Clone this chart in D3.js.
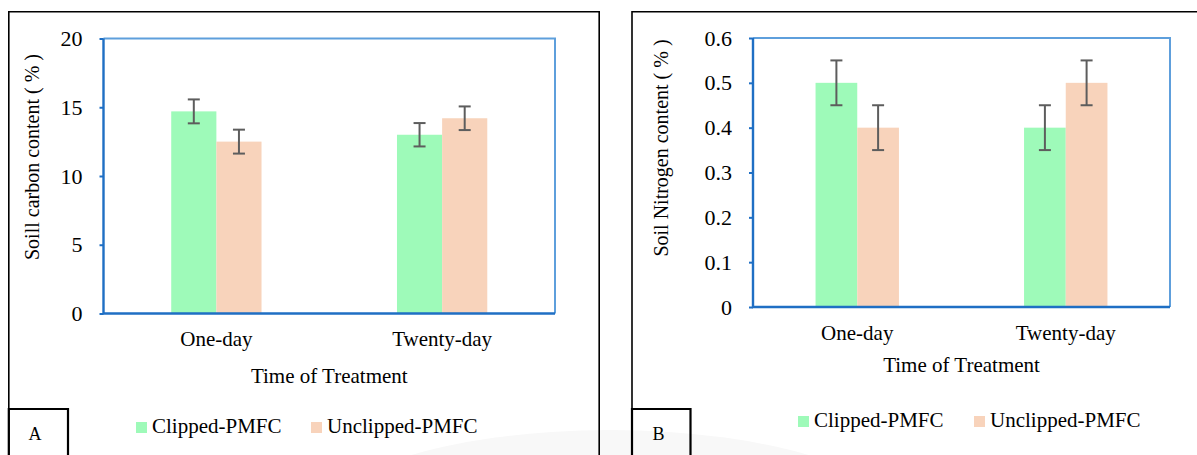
<!DOCTYPE html>
<html>
<head>
<meta charset="utf-8">
<script src="https://cdn.jsdelivr.net/npm/d3@7/dist/d3.min.js"></script>
<style>
  html, body { margin: 0; padding: 0; background: #fff; }
  svg { display: block; }
  text { font-family: "Liberation Serif", "Times New Roman", serif; fill: #000; }
</style>
</head>
<body>
<svg id="chart" width="1197" height="455"></svg>
<script>
// ---- Data ----
const categories = ["One-day", "Twenty-day"];
const seriesNames = ["Clipped-PMFC", "Unclipped-PMFC"];

const carbonClipped = [14.7, 13.0];
const carbonUnclipped = [12.5, 14.2];
const carbonClippedErr = [0.87, 0.85];
const carbonUnclippedErr = [0.87, 0.86];
const carbonTicks = [0, 5, 10, 15, 20];

const nitrogenClipped = [0.5, 0.4];
const nitrogenUnclipped = [0.4, 0.5];
const nitrogenClippedErr = [0.05, 0.05];
const nitrogenUnclippedErr = [0.05, 0.05];
const nitrogenTicks = [0, 0.1, 0.2, 0.3, 0.4, 0.5, 0.6];

const panelLabels = ["A", "B"];
const yTitles = ["Soill carbon content ( % )", "Soil Nitrogen content ( % )"];
const xTitle = "Time of Treatment";

// ---- Styles ----
const colors = { "Clipped-PMFC": "#9efab9", "Unclipped-PMFC": "#f8d3bb" };
const axisBlue = "#1f6fc4";
const frameBlue = "#5e9fdc";
const errColor = "#5d5d5d";
const FS = 21;

const svg = d3.select("#chart");
svg.append("rect").attr("width", 1197).attr("height", 455).attr("fill", "#fff");

// faint scan artifact
svg.append("ellipse").attr("cx", 610).attr("cy", 530).attr("rx", 300).attr("ry", 100)
  .attr("fill", "#f8f8f8");

function drawPanel(cfg) {
  const g = svg.append("g");
  const { left, right, top, bottom } = cfg.plot;

  // outer frame
  g.append("path")
    .attr("d", cfg.outerPath)
    .attr("fill", "none").attr("stroke", "#000").attr("stroke-width", 1.6);

  const x0 = d3.scaleBand().domain(categories).range([left, right]).padding(0);
  const bw = x0.bandwidth();
  const x1 = d3.scaleBand().domain(seriesNames).range([bw * 0.3, bw * 0.7]).padding(0);
  const y = d3.scaleLinear().domain(cfg.domain).range([bottom, top]);

  const rows = [];
  categories.forEach((c, i) => {
    rows.push({ cat: c, s: seriesNames[0], v: cfg.a[i], e: cfg.ae[i] });
    rows.push({ cat: c, s: seriesNames[1], v: cfg.b[i], e: cfg.be[i] });
  });

  // bars
  g.selectAll("rect.bar").data(rows).join("rect")
    .attr("class", "bar")
    .attr("x", d => x0(d.cat) + x1(d.s))
    .attr("width", x1.bandwidth())
    .attr("y", d => y(d.v))
    .attr("height", d => y(0) - y(d.v))
    .attr("fill", d => colors[d.s]);

  // error bars
  const eb = g.selectAll("g.err").data(rows).join("g").attr("class", "err")
    .attr("stroke", errColor).attr("stroke-width", 2);
  const cx = d => x0(d.cat) + x1(d.s) + x1.bandwidth() / 2;
  eb.append("line").attr("x1", cx).attr("x2", cx)
    .attr("y1", d => y(d.v + d.e)).attr("y2", d => y(d.v - d.e));
  eb.append("line").attr("x1", d => cx(d) - 6).attr("x2", d => cx(d) + 6)
    .attr("y1", d => y(d.v + d.e)).attr("y2", d => y(d.v + d.e));
  eb.append("line").attr("x1", d => cx(d) - 6).attr("x2", d => cx(d) + 6)
    .attr("y1", d => y(d.v - d.e)).attr("y2", d => y(d.v - d.e));

  // plot frame: top & right lighter
  g.append("path")
    .attr("d", `M${left},${top}H${right}V${bottom}`)
    .attr("fill", "none").attr("stroke", frameBlue).attr("stroke-width", 2);

  // y axis
  const yAxis = g.append("g").attr("transform", `translate(${left},0)`)
    .call(d3.axisLeft(y).tickValues(cfg.ticks).tickFormat(cfg.fmt).tickSize(4).tickPadding(17));
  yAxis.select(".domain").remove();
  yAxis.selectAll(".tick line").attr("stroke", axisBlue).attr("stroke-width", 2);
  yAxis.selectAll(".tick text").attr("font-size", 22).attr("font-family", "Liberation Serif").attr("fill", "#000");

  // axis lines (left & bottom)
  g.append("path")
    .attr("d", `M${left},${top}V${bottom}H${right}`)
    .attr("fill", "none").attr("stroke", axisBlue).attr("stroke-width", 2.4);

  // x axis labels
  const xAxis = g.append("g").attr("transform", `translate(0,${bottom})`)
    .call(d3.axisBottom(x0).tickSize(0).tickPadding(cfg.xPad));
  xAxis.select(".domain").remove();
  xAxis.selectAll(".tick text").attr("font-size", FS).attr("font-family", "Liberation Serif").attr("fill", "#000");

  // x title
  g.append("text").attr("x", (left + right) / 2).attr("y", cfg.xTitleY)
    .attr("text-anchor", "middle").attr("font-size", FS).text(xTitle);

  // y title
  g.append("text")
    .attr("transform", `translate(${cfg.yTitle[0]},${cfg.yTitle[1]}) rotate(-90)`)
    .attr("text-anchor", "middle").attr("dy", "0.35em").attr("font-size", FS - 1)
    .text(cfg.yTitleText);

  // legend
  seriesNames.forEach((s, i) => {
    const lx = cfg.legend[i];
    g.append("rect").attr("x", lx).attr("y", cfg.legendY).attr("width", 11).attr("height", 11)
      .attr("fill", colors[s]);
    g.append("text").attr("x", lx + 16).attr("y", cfg.legendY + 11).attr("font-size", FS).text(s);
  });

  // panel label box
  g.append("path").attr("d", cfg.labelBox)
    .attr("fill", "none").attr("stroke", "#000").attr("stroke-width", 2.2);
  g.append("text").attr("x", cfg.labelPos[0]).attr("y", cfg.labelPos[1])
    .attr("text-anchor", "middle").attr("font-size", 18).text(cfg.label);
}

drawPanel({
  plot: { left: 103.5, right: 555, top: 38.5, bottom: 313.5 },
  outerPath: "M8.8,470V11.8H599.2V470",
  domain: [0, 20], ticks: carbonTicks, fmt: d3.format("d"),
  a: carbonClipped, b: carbonUnclipped, ae: carbonClippedErr, be: carbonUnclippedErr,
  xPad: 18, xTitleY: 383,
  yTitle: [32, 157], yTitleText: yTitles[0],
  legend: [136, 311], legendY: 422,
  labelBox: "M8.8,470V409H68V470", labelPos: [35, 440], label: panelLabels[0]
});

drawPanel({
  plot: { left: 753, right: 1170, top: 38, bottom: 307 },
  outerPath: "M632,470V11.8H1210",
  domain: [0, 0.6], ticks: nitrogenTicks, fmt: d => d === 0 ? "0" : d3.format(".1f")(d),
  a: nitrogenClipped, b: nitrogenUnclipped, ae: nitrogenClippedErr, be: nitrogenUnclippedErr,
  xPad: 18, xTitleY: 372,
  yTitle: [661, 148], yTitleText: yTitles[1],
  legend: [798, 974], legendY: 416,
  labelBox: "M632,470V409H690.5V470", labelPos: [658.5, 440], label: panelLabels[1]
});
</script>
</body>
</html>
